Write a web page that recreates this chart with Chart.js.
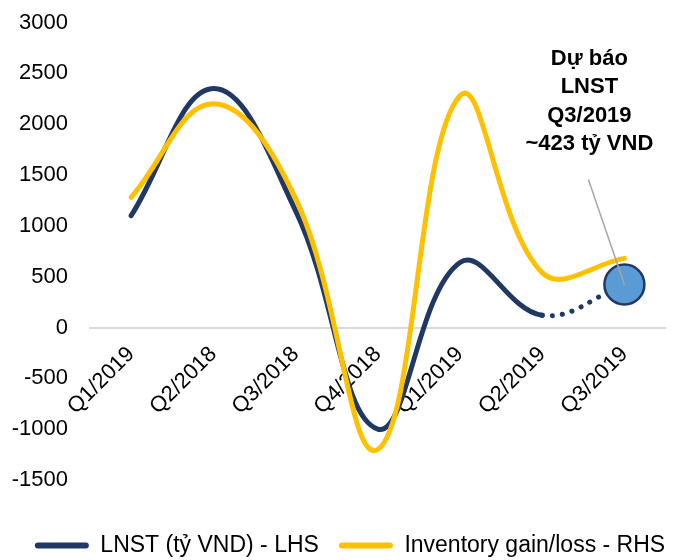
<!DOCTYPE html>
<html>
<head>
<meta charset="utf-8">
<script src="https://cdn.jsdelivr.net/npm/chart.js@4.4.1/dist/chart.umd.min.js"></script>
<style>
  html, body { margin: 0; padding: 0; background: #fff; }
  #wrap { width: 688px; height: 560px; position: relative; }
</style>
</head>
<body>
<div id="wrap"><canvas id="c" width="688" height="560"></canvas></div>
<script>
// ---- Data ----
const categories = ['Q1/2019', 'Q2/2018', 'Q3/2018', 'Q4/2018', 'Q1/2019', 'Q2/2019', 'Q3/2019'];
const lnstValues = [1100, 2350, 1150, -1000, 640, 120, 423];      // last segment = forecast (dotted)
const inventoryValues = [1280, 2200, 1270, -1200, 2280, 540, 680];
const forecastValues = [null, null, null, null, null, null, 423];
const yTicks = { min: -1500, max: 3000, step: 500 };
const seriesNames = ['LNST (tỷ VND) - LHS', 'Inventory gain/loss - RHS'];
const annotationLines = ['Dự báo', 'LNST', 'Q3/2019', '~423 tỷ VND'];

const NAVY = '#203864';
const GOLD = '#FFC000';
const FONT = "'Liberation Sans', Arial, sans-serif";

const forecastStart = lnstValues.length - 2;
const LEGEND_SHIFT_Y = 34;
const LEGEND_SHIFT_X = 14;

const annotationPlugin = {
  id: 'forecastNote',
  afterLayout(chart) {
    if (chart.legend) {
      chart.legend.top += LEGEND_SHIFT_Y;
      chart.legend.bottom += LEGEND_SHIFT_Y;
      chart.legend.left += LEGEND_SHIFT_X;
      chart.legend.right += LEGEND_SHIFT_X;
    }
  },
  afterDatasetsDraw(chart) {
    const ctx = chart.ctx;
    const meta = chart.getDatasetMeta(2);
    const pt = meta.data[6];
    if (!pt) return;
    const cx = pt.x, cy = pt.y;
    const tx = cx - 35;
    ctx.save();
    ctx.strokeStyle = '#A6A6A6';
    ctx.lineWidth = 1.5;
    ctx.beginPath();
    ctx.moveTo(tx - 1, cy - 105);
    ctx.lineTo(cx, cy);
    ctx.stroke();
    ctx.fillStyle = '#000';
    ctx.font = "bold 22px " + FONT;
    ctx.textAlign = 'center';
    ctx.textBaseline = 'middle';
    const top = cy - 226;
    annotationLines.forEach((s, i) => ctx.fillText(s, tx, top + i * 28.5));
    ctx.restore();
  }
};

new Chart(document.getElementById('c'), {
  type: 'line',
  data: {
    labels: categories,
    datasets: [
      {
        label: seriesNames[0],
        data: lnstValues,
        borderColor: NAVY,
        backgroundColor: NAVY,
        borderWidth: 5,
        borderCapStyle: 'round',
        borderJoinStyle: 'round',
        pointRadius: 0,
        tension: 0.4,
        order: 2,
        segment: {
          borderDash: (c) => c.p0DataIndex >= forecastStart ? [0.1, 10] : undefined
        }
      },
      {
        label: seriesNames[1],
        data: inventoryValues,
        borderColor: GOLD,
        backgroundColor: GOLD,
        borderWidth: 5,
        borderCapStyle: 'round',
        borderJoinStyle: 'round',
        pointRadius: 0,
        tension: 0.4,
        order: 1
      },
      {
        label: 'forecast',
        data: forecastValues,
        showLine: false,
        pointRadius: 20,
        pointHoverRadius: 20,
        pointBackgroundColor: '#5B9BD5',
        pointBorderColor: NAVY,
        pointBorderWidth: 2.5,
        order: 0
      }
    ]
  },
  options: {
    responsive: false,
    animation: false,
    events: [],
    layout: { padding: { top: 19.5, right: 16, left: 0, bottom: 27 } },
    scales: {
      x: {
        position: { y: 0 },
        offset: true,
        grid: { display: false, drawTicks: false, offset: true },
        border: { display: true, color: '#D9D9D9', width: 2 },
        ticks: {
          color: '#000',
          font: { family: FONT, size: 22 },
          maxRotation: 45,
          minRotation: 45,
          padding: 14,
          autoSkip: false
        },
        afterFit(scale) { scale.paddingLeft = 0; scale.paddingRight = 0; scale.paddingTop = 0; scale.paddingBottom = 0; }
      },
      y: {
        min: yTicks.min,
        max: yTicks.max,
        grid: { display: false, drawTicks: false },
        border: { display: false },
        ticks: {
          stepSize: yTicks.step,
          color: '#000',
          font: { family: FONT, size: 22 },
          padding: 22,
          callback: (v) => String(v)
        },
        afterFit(scale) { scale.width = 90; scale.paddingTop = 0; scale.paddingBottom = 0; }
      }
    },
    plugins: {
      legend: {
        position: 'bottom',
        labels: {
          color: '#000',
          font: { family: FONT, size: 23 },
          boxWidth: 54,
          boxHeight: 6,
          padding: 20,
          generateLabels(chart) {
            return chart.data.datasets.slice(0, 2).map((ds, i) => ({
              text: ds.label,
              fillStyle: ds.borderColor,
              strokeStyle: ds.borderColor,
              lineWidth: 0,
              borderRadius: 3,
              datasetIndex: i,
              fontColor: '#000'
            }));
          }
        }
      },
      tooltip: { enabled: false }
    }
  },
  plugins: [annotationPlugin]
});
</script>
</body>
</html>
